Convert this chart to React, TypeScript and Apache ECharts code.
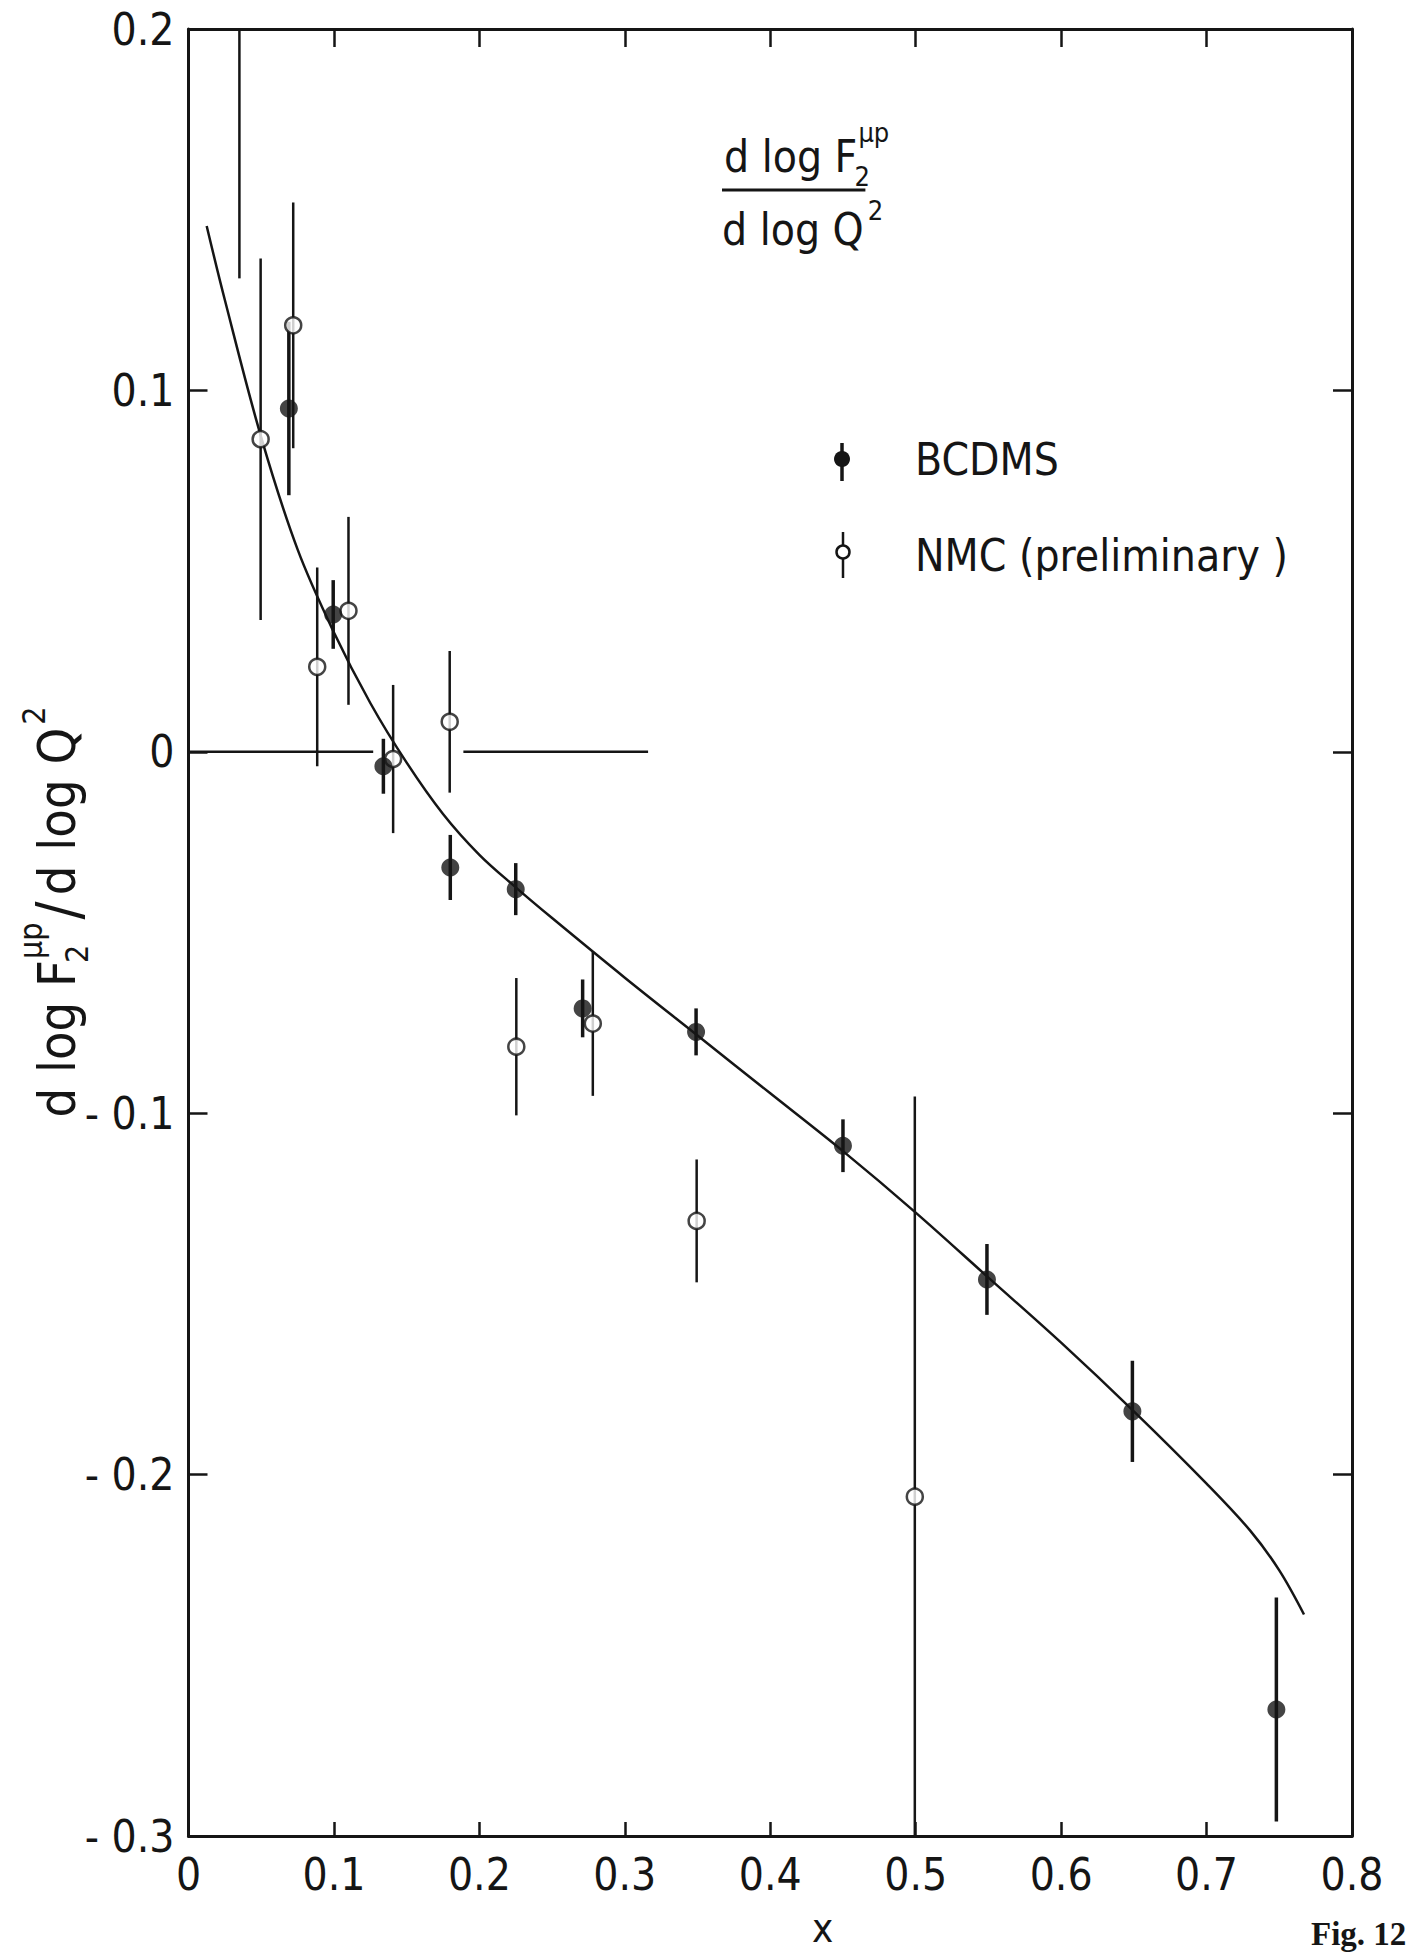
import React, { useEffect, useRef } from "react";
import * as echarts from "echarts";

// Fitted curve of dlog F2 / dlog Q2 versus x
const fitX = [0.0125, 0.025, 0.05, 0.075, 0.1, 0.125, 0.15, 0.175, 0.2, 0.225, 0.25, 0.3, 0.35, 0.4, 0.45, 0.5, 0.55, 0.6, 0.65, 0.7, 0.73, 0.75, 0.767];
const fitY = [0.1455, 0.125, 0.087, 0.056, 0.033, 0.0135, -0.003, -0.0172, -0.0285, -0.0375, -0.046, -0.0625, -0.0785, -0.0945, -0.1105, -0.1275, -0.1455, -0.1635, -0.1825, -0.2025, -0.2155, -0.2265, -0.2387];

// BCDMS slopes (filled points)
const bcdmsX = [0.069, 0.0995, 0.134, 0.18, 0.225, 0.271, 0.349, 0.45, 0.549, 0.649, 0.748];
const bcdmsY = [0.095, 0.038, -0.004, -0.032, -0.038, -0.071, -0.0775, -0.109, -0.146, -0.1825, -0.265];
const bcdmsErr = [0.024, 0.0095, 0.0076, 0.009, 0.0072, 0.008, 0.0065, 0.0073, 0.0098, 0.014, 0.031];

// NMC preliminary slopes (open points)
const nmcX = [0.0496, 0.072, 0.0885, 0.11, 0.1407, 0.1796, 0.2254, 0.278, 0.3494, 0.4994];
const nmcY = [0.0865, 0.118, 0.0235, 0.039, -0.002, 0.0083, -0.0816, -0.0752, -0.1298, -0.2061];
const nmcErr = [0.05, 0.034, 0.0275, 0.026, 0.0205, 0.0196, 0.019, 0.02, 0.017, 0.1107];

// NMC point above the plotted range: only the lower end of its error bar is visible
const nmcHighX = [0.035];
const nmcHighLow = [0.131];

// Reference line at zero, drawn in two pieces
const zeroStart = [0, 0.189];
const zeroEnd = [0.127, 0.316];

const X_MIN = 0;
const X_MAX = 0.8;
const Y_MIN = -0.3;
const Y_MAX = 0.2;

const FONT = '"DejaVu Sans Condensed", "DejaVu Sans", sans-serif';
const SERIF = '"Liberation Serif", "DejaVu Serif", serif';
const INK = "#151515";

let measureCtx: CanvasRenderingContext2D | null = null;
function textWidth(text: string, size: number): number {
  if (!measureCtx) measureCtx = document.createElement("canvas").getContext("2d");
  if (!measureCtx) return text.length * size * 0.55;
  measureCtx.font = `${size}px ${FONT}`;
  return measureCtx.measureText(text).width;
}

// text element positioned by its left edge and baseline
function txt(text: string, x: number, baseline: number, size: number, extra: any = {}) {
  return {
    type: "text",
    x,
    y: baseline - 0.36 * size,
    silent: true,
    style: {
      text,
      fontSize: size,
      fontFamily: FONT,
      fill: INK,
      align: "left",
      verticalAlign: "middle",
      ...extra,
    },
  };
}

const clampY = (v: number) => Math.min(Y_MAX, Math.max(Y_MIN, v));

function errorBarSeries(name: string, xs: number[], ys: number[], errs: number[], width: number) {
  return {
    name,
    type: "custom",
    xAxisIndex: 0,
    yAxisIndex: 0,
    z: 3,
    data: xs.map((x, i) => [x, ys[i] - errs[i], ys[i] + errs[i]]),
    renderItem: (_params: any, api: any) => {
      const x = api.value(0);
      const p1 = api.coord([x, clampY(api.value(1))]);
      const p2 = api.coord([x, clampY(api.value(2))]);
      return {
        type: "line",
        shape: { x1: p1[0], y1: p1[1], x2: p2[0], y2: p2[1] },
        style: { stroke: INK, lineWidth: width },
      };
    },
  };
}

// vertical axis title, reading bottom to top
function yTitle() {
  const S = 52;
  const s = 32;
  const children: any[] = [];
  let cx = 0;
  children.push(txt("d log F", 0, 0, S));
  cx += textWidth("d log F", S);
  children.push(txt("2", cx - 3, 13, s));
  children.push(txt("\u03bcp", cx + 1, -33, s));
  cx += Math.max(textWidth("2", s), textWidth("\u03bcp", s)) + 4;
  children.push(txt("/", cx, 4, S * 1.15));
  cx += textWidth("/", S * 1.15) + 6;
  children.push(txt("d log Q", cx, 0, S));
  cx += textWidth("d log Q", S);
  children.push(txt("2", cx + 3, -30, s));
  cx += textWidth("2", s) + 3;
  return {
    type: "group",
    x: 76,
    y: 912 + cx / 2,
    rotation: Math.PI / 2,
    children,
  };
}

function fractionNote() {
  const S = 44;
  const s = 27;
  const wNum = textWidth("d log F", S);
  const wDen = textWidth("d log Q", S);
  const left = 724;
  return {
    type: "group",
    children: [
      txt("d log F", left, 172, S),
      txt("2", left + wNum - 3, 186, s),
      txt("\u03bcp", left + wNum + 1, 142, s),
      {
        type: "line",
        silent: true,
        shape: { x1: left - 2, y1: 190, x2: left + wNum + 8, y2: 190 },
        style: { stroke: INK, lineWidth: 3 },
      },
      txt("d log Q", left - 2, 245, S),
      txt("2", left + wDen + 2, 220, s),
    ],
  };
}

function legendBlock() {
  return {
    type: "group",
    children: [
      { type: "line", silent: true, shape: { x1: 842, y1: 443, x2: 842, y2: 481 }, style: { stroke: INK, lineWidth: 3.5 } },
      { type: "circle", silent: true, shape: { cx: 842, cy: 459, r: 8 }, style: { fill: INK } },
      txt("BCDMS", 915, 475, 44),
      { type: "line", silent: true, shape: { x1: 843, y1: 532, x2: 843, y2: 578 }, style: { stroke: INK, lineWidth: 2.5 } },
      { type: "circle", silent: true, shape: { cx: 843, cy: 552, r: 6.5 }, style: { fill: "#fff", stroke: INK, lineWidth: 2.5 } },
      txt("NMC (preliminary )", 915, 571, 44),
    ],
  };
}

export default function App() {
  const ref = useRef<HTMLDivElement>(null);

  useEffect(() => {
    if (!ref.current) return;
    const chart = echarts.init(ref.current, undefined, { renderer: "svg" });

    const axisBase = {
      type: "value",
      axisLine: { show: true, onZero: false, lineStyle: { color: INK, width: 3 } },
      splitLine: { show: false },
    };

    const option: any = {
      animation: false,
      backgroundColor: "#ffffff",
      grid: { left: 188.5, right: 61, top: 29, bottom: 116, containLabel: false },
      xAxis: [
        {
          ...axisBase,
          position: "bottom",
          min: X_MIN,
          max: X_MAX,
          interval: 0.1,
          axisTick: { show: true, inside: true, length: 14, lineStyle: { color: INK, width: 2.5 } },
          axisLabel: {
            show: true,
            margin: 16,
            color: INK,
            fontSize: 44,
            fontFamily: FONT,
            formatter: (v: number) => (Math.abs(v) < 1e-9 ? "0" : v.toFixed(1)),
          },
        },
        {
          ...axisBase,
          position: "top",
          min: X_MIN,
          max: X_MAX,
          interval: 0.1,
          axisTick: { show: true, inside: true, length: 18, lineStyle: { color: INK, width: 2.5 } },
          axisLabel: { show: false },
        },
      ],
      yAxis: [
        {
          ...axisBase,
          position: "left",
          min: Y_MIN,
          max: Y_MAX,
          interval: 0.1,
          axisTick: { show: true, inside: true, length: 19, lineStyle: { color: INK, width: 2.5 } },
          axisLabel: {
            show: true,
            margin: 14,
            color: INK,
            fontSize: 44,
            fontFamily: FONT,
            formatter: (v: number) =>
              Math.abs(v) < 1e-9 ? "0" : v < 0 ? "- " + Math.abs(v).toFixed(1) : v.toFixed(1),
          },
        },
        {
          ...axisBase,
          position: "right",
          min: Y_MIN,
          max: Y_MAX,
          interval: 0.1,
          axisTick: { show: true, inside: true, length: 19, lineStyle: { color: INK, width: 2.5 } },
          axisLabel: { show: false },
        },
      ],
      series: [
        {
          name: "fit",
          type: "line",
          xAxisIndex: 0,
          yAxisIndex: 0,
          data: fitX.map((x, i) => [x, fitY[i]]),
          smooth: 0.35,
          showSymbol: false,
          symbol: "none",
          lineStyle: { color: INK, width: 2.5 },
          z: 2,
        },
        {
          name: "zero",
          type: "custom",
          xAxisIndex: 0,
          yAxisIndex: 0,
          z: 2,
          data: zeroStart.map((a, i) => [a, zeroEnd[i]]),
          renderItem: (_params: any, api: any) => {
            const p1 = api.coord([api.value(0), 0]);
            const p2 = api.coord([api.value(1), 0]);
            return {
              type: "line",
              shape: { x1: p1[0], y1: p1[1], x2: p2[0], y2: p2[1] },
              style: { stroke: INK, lineWidth: 2.5 },
            };
          },
        },
        errorBarSeries("NMC errors", nmcX, nmcY, nmcErr, 2.5),
        errorBarSeries("BCDMS errors", bcdmsX, bcdmsY, bcdmsErr, 3.5),
        {
          name: "NMC above range",
          type: "custom",
          xAxisIndex: 0,
          yAxisIndex: 0,
          z: 3,
          data: nmcHighX.map((x, i) => [x, nmcHighLow[i]]),
          renderItem: (_params: any, api: any) => {
            const p1 = api.coord([api.value(0), api.value(1)]);
            const p2 = api.coord([api.value(0), Y_MAX]);
            return {
              type: "line",
              shape: { x1: p1[0], y1: p1[1], x2: p2[0], y2: p2[1] },
              style: { stroke: INK, lineWidth: 2.5 },
            };
          },
        },
        {
          name: "NMC",
          type: "scatter",
          xAxisIndex: 0,
          yAxisIndex: 0,
          z: 5,
          symbol: "circle",
          symbolSize: 16,
          itemStyle: { color: "#ffffff", borderColor: INK, borderWidth: 2.5 },
          data: nmcX.map((x, i) => [x, nmcY[i]]),
        },
        {
          name: "BCDMS",
          type: "scatter",
          xAxisIndex: 0,
          yAxisIndex: 0,
          z: 6,
          symbol: "circle",
          symbolSize: 18,
          itemStyle: { color: INK },
          data: bcdmsX.map((x, i) => [x, bcdmsY[i]]),
        },
      ],
      graphic: [
        yTitle(),
        fractionNote(),
        legendBlock(),
        txt("x", 812, 1942, 40),
        txt("Fig. 12", 1311, 1946, 33, { fontFamily: SERIF, fontWeight: "bold" }),
      ],
    };

    chart.setOption(option);
    return () => chart.dispose();
  }, []);

  return (
    <div
      ref={ref}
      style={{ position: "absolute", left: 0, top: 0, width: 1413, height: 1952, background: "#ffffff" }}
    />
  );
}
